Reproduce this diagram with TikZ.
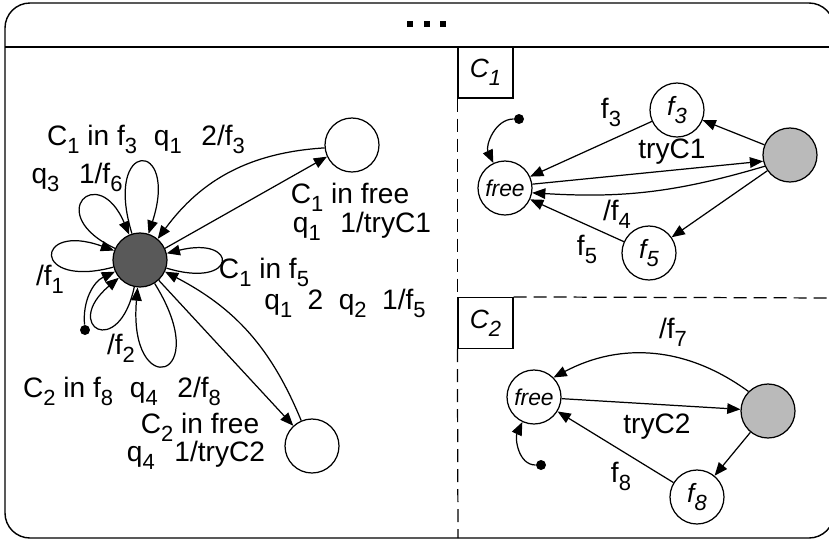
\documentclass[tikz,border=0pt]{standalone}
\usepackage{fontspec}
\setmainfont{Liberation Sans}
\usetikzlibrary{arrows.meta}
\newcommand{\ix}[1]{\raisebox{-0.3em}{\fontsize{12.5}{13}\selectfont #1}}
\tikzset{
  state/.style={circle,draw,line width=0.7pt,minimum size=1.08cm,inner sep=0pt,font=\fontsize{15}{17}\selectfont\itshape},
  startdot/.style={circle,fill,inner sep=0pt,minimum size=0.2cm},
  lab/.style={anchor=base,inner sep=0pt,font=\fontsize{16}{18}\selectfont},
  tabbox/.style={draw,line width=0.7pt,minimum width=1.1cm,minimum height=1.02cm,inner sep=0pt,font=\fontsize{15}{17}\selectfont\itshape},
  arr/.style={-{Triangle[length=7.5pt,width=6pt]},line width=0.7pt},
  sepline/.style={line width=0.7pt,dash pattern=on 0.26cm off 0.14cm}
}
\begin{document}
\begin{tikzpicture}[x=0.02cm,y=-0.02cm]
  \useasboundingbox (0,0) rectangle (829,542);
  \draw [line width=0.8pt,rounded corners=0.5cm] (5,3) rectangle (834,538);
  \draw [line width=0.8pt] (5,47)--(834,47);
  \fill (407,21) rectangle (413,27);
  \fill (424,21) rectangle (430,27);
  \fill (440,21) rectangle (446,27);
  % regions
  \node [tabbox] (c1) at (485.5,72.5) {C\ix{1}};
  \node [tabbox] (c2) at (485.5,323) {C\ix{2}};
  \draw [sepline] (c1.south west)--(c2.north west);
  \draw [sepline] (c2.south west)--(458,538);
  \draw [sepline] (c2.north east)--(834,298);
  % left part
  \node [state,fill=black!65] (m) at (140,260) {};
  \node [state] (ur) at (352,145) {};
  \node [state] (lr) at (312,446) {};
  \node [startdot] (d0) at (85,330) {};
  \draw [arr] (d0) to[out=95,in=205] (m);
  \draw [arr] (m) to[out=107,in=72,min distance=2cm] (m);
  \draw [arr] (m) to[out=155,in=113,min distance=1.6cm] (m);
  \draw [arr] (m) to[out=195,in=160,min distance=1.7cm] (m);
  \draw [arr] (m) to[out=258,in=220,min distance=1.5cm] (m);
  \draw [arr] (m) to[out=302,in=265,min distance=2.3cm] (m);
  \draw [arr] (m) to[out=-17,in=14,min distance=1.5cm] (m);
  \draw [arr] (ur.186) to[bend right=25] (m.50);
  \draw [arr] (m.25)--(ur.205);
  \draw [arr] (m)--(lr);
  \draw [arr] (lr.113) to[bend right=20] (m.-25);
  \node [lab] (t1) at (146,145) {C\ix{1} in f\ix{3}\hspace{.6em}q\ix{1}\hspace{.7em}2/f\ix{3}};
  \node [lab] (t2) at (77,183) {q\ix{3}\hspace{.7em}1/f\ix{6}};
  \node [lab] (t3) at (50,285) {/f\ix{1}};
  \node [lab] (t4) at (121,354) {/f\ix{2}};
  \node [lab] (t5) at (122,397) {C\ix{2} in f\ix{8}\hspace{.6em}q\ix{4}\hspace{.7em}2/f\ix{8}};
  \node [lab] (t6) at (200,433) {C\ix{2} in free};
  \node [lab] (t7) at (196,461) {q\ix{4}\hspace{.7em}1/tryC2};
  \node [lab] (t8) at (350,203) {C\ix{1} in free};
  \node [lab] (t9) at (362,232) {q\ix{1}\hspace{.7em}1/tryC1};
  \node [lab] (t10) at (264,278) {C\ix{1} in f\ix{5}};
  \node [lab] (t11) at (345,309) {q\ix{1}\hspace{.55em}2\hspace{.55em}q\ix{2}\hspace{.55em}1/f\ix{5}};
  % C1
  \node [state,font=\fontsize{13}{15}\selectfont\itshape] (free1) at (505,188) {free};
  \node [state] (f3) at (677,110) {f\ix{3}};
  \node [state,fill=black!27] (g1) at (790,155) {};
  \node [state] (f5) at (649,253) {f\ix{5}};
  \node [startdot] (d1) at (519,119) {};
  \draw [arr] (d1) to[out=180,in=115] (free1);
  \draw [arr] (f3)--(free1);
  \draw [arr] (g1)--(f3);
  \draw [arr] (free1.8)--(g1.193);
  \draw [arr] (g1.204) to[bend left=10] (free1.-10);
  \draw [arr] (g1)--(f5);
  \draw [arr] (f5)--(free1);
  \node [lab] (u1) at (611,118) {f\ix{3}};
  \node [lab] (u2) at (672,158) {tryC1};
  \node [lab] (u3) at (617,220) {/f\ix{4}};
  \node [lab] (u4) at (587,255) {f\ix{5}};
  % C2
  \node [state,font=\fontsize{13}{15}\selectfont\itshape] (free2) at (534,397) {free};
  \node [state,fill=black!27] (g2) at (768,411) {};
  \node [state] (f8) at (697,497) {f\ix{8}};
  \node [startdot] (d2) at (541,465) {};
  \draw [arr] (d2) to[out=180,in=245] (free2);
  \draw [arr] (g2.135) to[bend right=32] (free2.45);
  \draw [arr] (free2)--(g2);
  \draw [arr] (g2)--(f8);
  \draw [arr] (f8)--(free2);
  \node [lab] (v1) at (673,338) {/f\ix{7}};
  \node [lab] (v2) at (657,433) {tryC2};
  \node [lab] (v3) at (621,482) {f\ix{8}};
\end{tikzpicture}
\end{document}
